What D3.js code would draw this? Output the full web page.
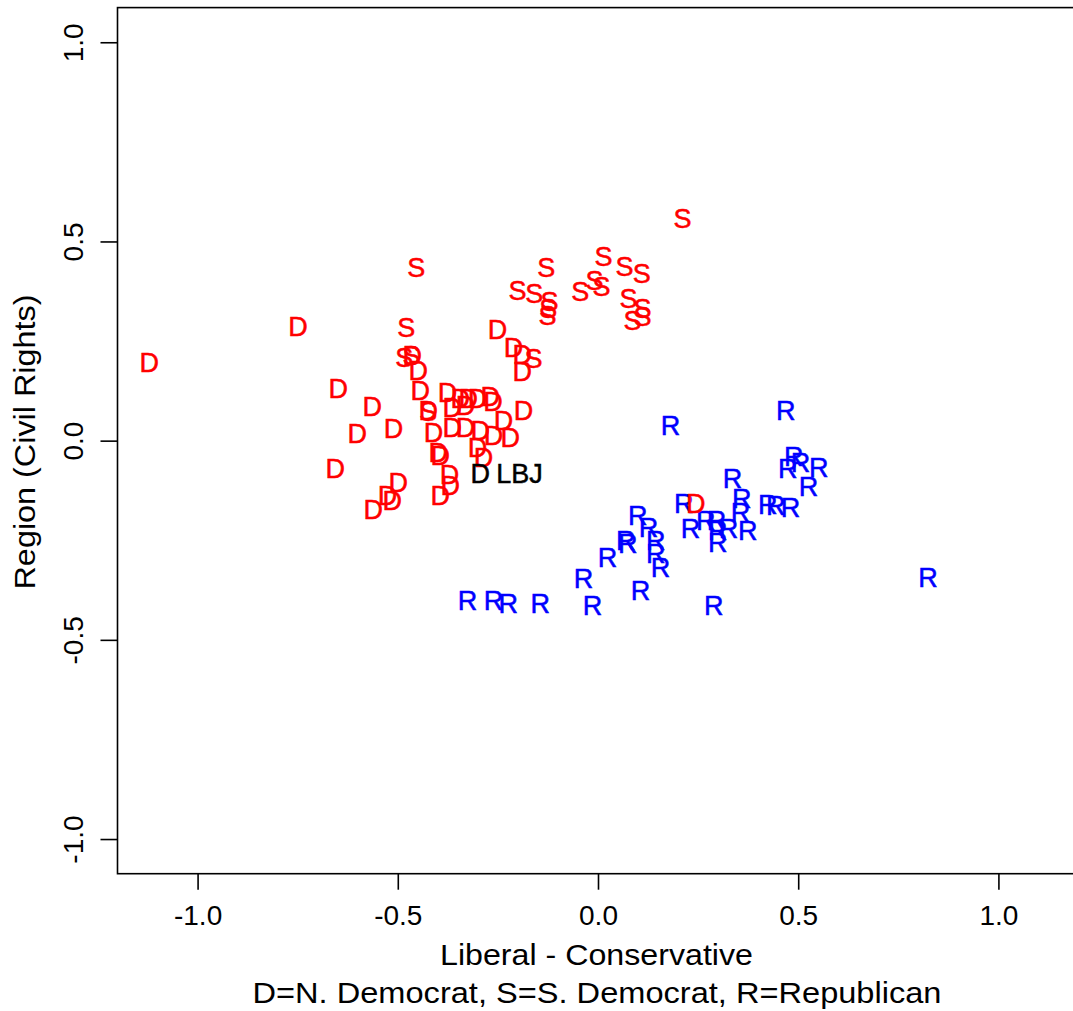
<!DOCTYPE html>
<html>
<head>
<meta charset="utf-8">
<script src="https://cdn.jsdelivr.net/npm/d3@7"></script>
<style>
  html, body { margin: 0; padding: 0; background: #fff; }
  svg { display: block; }
  text { font-family: "Liberation Sans", Arial, Helvetica, sans-serif; }
</style>
</head>
<body>
<svg id="chart" width="1073" height="1011"></svg>
<script>
// ---- Data ----
const xTicks = [-1.0, -0.5, 0.0, 0.5, 1.0];
const yTicks = [-1.0, -0.5, 0.0, 0.5, 1.0];
const xLabel = "Liberal - Conservative";
const xLabel2 = "D=N. Democrat, S=S. Democrat, R=Republican";
const yLabel = "Region (Civil Rights)";

// Northern Democrats (D)
const demX = [-1.121, -0.749, -0.649, -0.564, -0.601, -0.511, -0.656, -0.499, -0.526, -0.514,
              -0.561, -0.449, -0.444, -0.424, -0.411, -0.399, -0.394, -0.371, -0.369, -0.394,
              -0.376, -0.344, -0.324, -0.301, -0.269, -0.364, -0.331, -0.364, -0.331, -0.294,
              -0.236, -0.261, -0.219, -0.301, -0.286, -0.186, -0.251, -0.211, -0.189, -0.189,
              -0.464, -0.262, 0.244];
const demY = [0.197, 0.287, 0.132, 0.087, 0.019, 0.031, -0.069, -0.104, -0.137, -0.149,
              -0.172, 0.177, 0.127, 0.076, 0.021, -0.029, -0.036, -0.084, -0.112, -0.137,
              0.122, 0.107, 0.107, 0.107, 0.112, 0.084, 0.089, 0.034, 0.034, 0.026,
              0.051, 0.014, 0.009, -0.016, -0.041, 0.077, 0.280, 0.235, 0.217, 0.174,
              0.215, 0.100, -0.157];

// Southern Democrats (S)
const sdemX = [0.211, -0.454, -0.129, 0.014, 0.066, 0.109, -0.201, -0.159, -0.121, -0.124,
               -0.126, -0.044, -0.009, 0.009, 0.076, 0.111, 0.086, 0.111, -0.479, -0.484,
               -0.466, -0.161, -0.424];
const sdemY = [0.558, 0.435, 0.435, 0.463, 0.438, 0.420, 0.378, 0.370, 0.350, 0.332,
               0.315, 0.375, 0.403, 0.388, 0.358, 0.332, 0.302, 0.312, 0.285, 0.210,
               0.215, 0.207, 0.074];

// Republicans (R)
const repX = [0.181, 0.469, 0.489, 0.474, 0.506, 0.551, 0.526, 0.336, 0.214, 0.359,
              0.424, 0.444, 0.481, 0.356, 0.099, 0.126, 0.231, 0.269, 0.296, 0.299,
              0.326, 0.374, 0.299, 0.069, 0.074, 0.144, 0.144, 0.156, 0.024, -0.036,
              0.106, -0.014, 0.289, -0.326, -0.261, -0.224, -0.144, 0.824];
const repY = [0.039, 0.077, -0.039, -0.069, -0.054, -0.066, -0.114, -0.094, -0.157, -0.144,
              -0.159, -0.162, -0.167, -0.179, -0.187, -0.217, -0.220, -0.199, -0.199, -0.225,
              -0.220, -0.225, -0.255, -0.250, -0.257, -0.250, -0.282, -0.317, -0.292, -0.345,
              -0.375, -0.413, -0.413, -0.400, -0.400, -0.408, -0.408, -0.343];

// LBJ
const lbjX = [-0.294];
const lbjY = [-0.082];
const lbjName = ["LBJ"];

// ---- Drawing ----
const svg = d3.select("#chart");
const x = d3.scaleLinear().domain([-1.2, 1.2]).range([117.5, 1078.5]);
const y = d3.scaleLinear().domain([-1.087, 1.087]).range([873.7, 7.6]);
const fmt = d => d.toFixed(1);

// box
svg.append("rect")
  .attr("x", x(-1.2)).attr("y", y(1.087))
  .attr("width", x(1.2) - x(-1.2)).attr("height", y(-1.087) - y(1.087))
  .attr("fill", "none").attr("stroke", "#000").attr("stroke-width", 1.6);

// x axis
const gx = svg.append("g")
  .attr("transform", `translate(0,${y(-1.087)})`)
  .call(d3.axisBottom(x).tickValues(xTicks).tickFormat(fmt).tickSize(16).tickSizeOuter(0));
gx.select(".domain").remove();
gx.selectAll(".tick line").attr("stroke", "#000").attr("stroke-width", 1.6);
gx.selectAll(".tick text")
  .attr("y", 51).attr("dy", 0)
  .attr("fill", "#000")
  .style("font-size", "28px");

// y axis
const gy = svg.append("g")
  .attr("transform", `translate(${x(-1.2)},0)`)
  .call(d3.axisLeft(y).tickValues(yTicks).tickFormat(fmt).tickSize(17).tickSizeOuter(0));
gy.select(".domain").remove();
gy.selectAll(".tick line").attr("stroke", "#000").attr("stroke-width", 1.6);
gy.selectAll(".tick text")
  .attr("x", 0).attr("y", 0).attr("dy", 0)
  .attr("text-anchor", "middle")
  .attr("transform", "translate(-34.5,0) rotate(-90)")
  .attr("fill", "#000")
  .style("font-size", "28px");

// axis titles
svg.append("text")
  .attr("x", 596.5).attr("y", 965)
  .attr("text-anchor", "middle")
  .attr("textLength", 313).attr("lengthAdjust", "spacingAndGlyphs")
  .style("font-size", "29px")
  .text(xLabel);
svg.append("text")
  .attr("x", 597).attr("y", 1003)
  .attr("text-anchor", "middle")
  .attr("textLength", 689).attr("lengthAdjust", "spacingAndGlyphs")
  .style("font-size", "29px")
  .text(xLabel2);
svg.append("text")
  .attr("transform", "translate(35,442) rotate(-90)")
  .attr("text-anchor", "middle")
  .attr("textLength", 295).attr("lengthAdjust", "spacingAndGlyphs")
  .style("font-size", "29px")
  .text(yLabel);

// points as letters
function letters(xs, ys, ch, color) {
  svg.append("g").selectAll("text")
    .data(xs.map((v, i) => [v, ys[i]]))
    .join("text")
    .attr("x", d => x(d[0]))
    .attr("y", d => y(d[1]))
    .attr("dy", "0.36em")
    .attr("text-anchor", "middle")
    .attr("fill", color)
    .attr("stroke", color)
    .attr("stroke-width", 0.5)
    .style("font-size", "27px")
    .text(ch);
}
letters(repX, repY, "R", "#0000ff");
letters(demX, demY, "D", "#ff0000");
letters(sdemX, sdemY, "S", "#ff0000");
letters(lbjX, lbjY, "D", "#000000");

svg.append("g").selectAll("text")
  .data(lbjX.map((v, i) => [v, lbjY[i], lbjName[i]]))
  .join("text")
  .attr("x", d => x(d[0]) + 16)
  .attr("y", d => y(d[1]))
  .attr("dy", "0.36em")
  .attr("text-anchor", "start")
  .attr("fill", "#000")
  .attr("stroke", "#000")
  .attr("stroke-width", 0.5)
  .style("font-size", "27px")
  .text(d => d[2]);
</script>
</body>
</html>
